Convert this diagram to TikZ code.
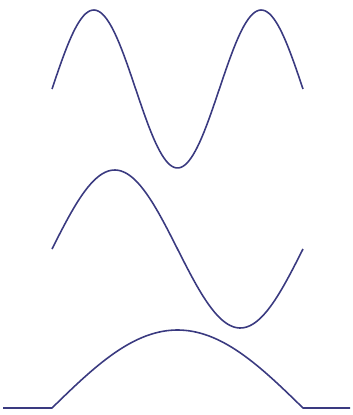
\documentclass[tikz,border=0pt]{standalone}
\usepackage{tikz}
\definecolor{wavecol}{RGB}{58,58,128}
\tikzset{wave/.style={line width=0.9pt, wavecol, line join=round}}
\begin{document}
\begin{tikzpicture}[x=0.02cm, y=-0.02cm]
  \useasboundingbox (0,0) rectangle (352,415);
  % Three half periods
  \draw[wave] plot[domain=0:540, samples=120, smooth] ({52+\x/540*251}, {89-79*sin(\x)});
  % One full period
  \draw[wave] plot[domain=0:360, samples=100, smooth] ({52+\x/360*251}, {249-79*sin(\x)});
  % Half period with flat ends
  \draw[wave] (3,408) -- (52,408)
    -- plot[domain=0:180, samples=60, smooth] ({52+\x/180*251}, {408-78*sin(\x)})
    -- (350,408);
\end{tikzpicture}
\end{document}
